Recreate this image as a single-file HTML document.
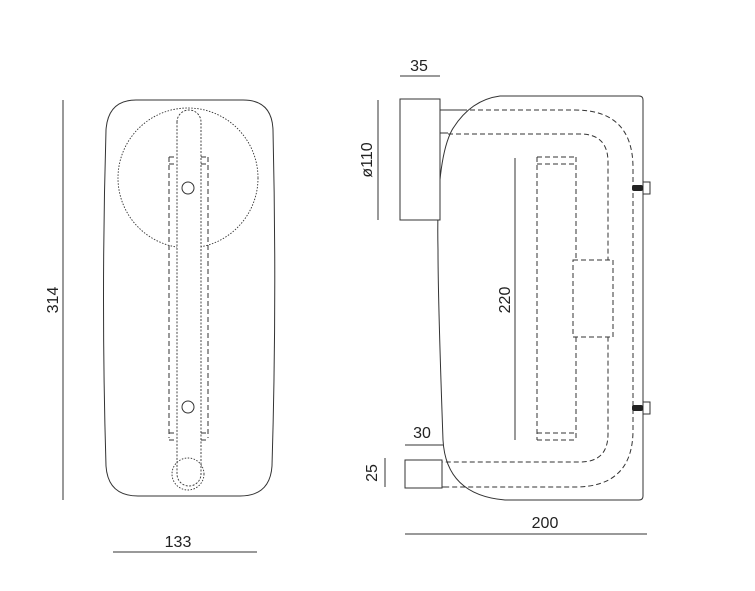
<!DOCTYPE html>
<html><head><style>
body{margin:0;background:#fff;}
svg{display:block;}
text{font-family:"Liberation Sans",sans-serif;font-size:16px;fill:#222;}
</style></head><body>
<svg width="755" height="591" viewBox="0 0 755 591">
<g fill="none" stroke="#333" stroke-width="1">
<!-- left view outer -->
<path d="M136,100 L243,100 Q272,100 273,130 Q277,300 272,466 Q270,496 240,496 L138,496 Q108,496 106,466 Q101,300 106,130 Q108,100 136,100 Z"/>
<circle cx="188" cy="178" r="70" stroke-dasharray="1.5,1.5" stroke-width="0.9"/>
<path d="M177,122 A12,12 0 0 1 201,122 V474 A12,12 0 0 1 177,474 Z" fill="#fff" stroke-dasharray="2,1.5" stroke-width="0.9"/>
<circle cx="188" cy="474" r="16" stroke-dasharray="1.5,1.5" stroke-width="0.9"/>
<path d="M169,157 H177 M169,164 H177 M201,157 H208 M201,164 H208 M169,157 V438 M208,157 V438 M169,433 H177 M169,440 H177 M201,433 H208 M201,440 H208" stroke-dasharray="5,3"/>
<circle cx="188" cy="188" r="6" fill="#fff"/>
<circle cx="188" cy="407" r="6" fill="#fff"/>
<line x1="63" y1="100" x2="63" y2="500"/>
<line x1="113" y1="552" x2="257" y2="552"/>
<!-- right view -->
<line x1="400" y1="76" x2="440" y2="76"/>
<line x1="378" y1="100" x2="378" y2="220"/>
<path d="M505,500 Q446,495 443,440 Q438,300 438,250 Q436,160 452,130 Q470,100 500,96 L639,96 Q643,96 643,100 L643,496 Q643,500 639,500 Z" fill="#fff"/>
<rect x="400" y="99" width="40" height="121" fill="#fff"/>
<line x1="440" y1="110" x2="462" y2="110"/>
<line x1="440" y1="133" x2="448" y2="133"/>
<path d="M462,110 H575 Q633,110 633,168 V430 Q633,487 575,487 H442" stroke-dasharray="5,3"/>
<path d="M448,134 H580 Q608,134 608,162 V434 Q608,462 580,462 H442" stroke-dasharray="5,3"/>
<path d="M537,157 H576 M537,164 H576 M537,157 V440 M576,157 V260 M576,337 V440 M537,433 H576 M537,440 H576" stroke-dasharray="5,3"/>
<rect x="573" y="260" width="40" height="77" stroke-dasharray="5,3" fill="#fff"/>
<line x1="515" y1="158" x2="515" y2="440"/>
<rect x="405" y="460" width="37" height="28" fill="#fff"/>
<line x1="442" y1="487" x2="448" y2="487"/>
<line x1="405" y1="445" x2="443" y2="445"/>
<line x1="385" y1="458" x2="385" y2="487"/>
<line x1="405" y1="534" x2="647" y2="534"/>
<rect x="643" y="182" width="7" height="12"/>
<rect x="643" y="402" width="7" height="12"/>
</g>
<rect x="632" y="185" width="11" height="6" rx="2" fill="#222"/>
<rect x="632" y="405" width="11" height="6" rx="2" fill="#222"/>
<text x="178" y="547" text-anchor="middle">133</text>
<text transform="translate(58,300) rotate(-90)" text-anchor="middle">314</text>
<text x="419" y="71" text-anchor="middle">35</text>
<text transform="translate(372,160) rotate(-90)" text-anchor="middle">ø110</text>
<text transform="translate(510,300) rotate(-90)" text-anchor="middle">220</text>
<text x="422" y="438" text-anchor="middle">30</text>
<text transform="translate(377,473) rotate(-90)" text-anchor="middle">25</text>
<text x="545" y="528" text-anchor="middle">200</text>
</svg>
</body></html>
